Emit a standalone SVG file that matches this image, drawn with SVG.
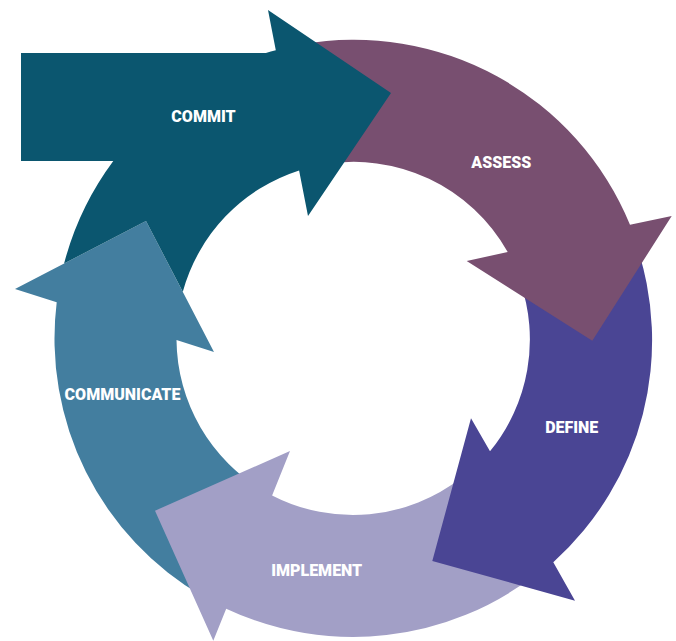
<svg xmlns="http://www.w3.org/2000/svg" width="676" height="641" viewBox="0 0 676 641">
  <style>
    .lbl { font-family: Roboto, "Liberation Sans", sans-serif; font-weight: 900; font-size: 16px; fill: #ffffff; text-anchor: middle; }
    .commit { fill: #0b566f; }
    .assess { fill: #784f70; }
    .define { fill: #4a4594; }
    .implement { fill: #a29fc6; }
    .communicate { fill: #437e9f; }
  </style>
  <rect width="676" height="641" fill="#ffffff"/>
  <g id="communicate">
    <path class="communicate" d="M 203.75,597 A 298.5 298.5 0 0 1 56.7,302.2 L 15,289 L 146,221 L 214,352 L 176.5,340.1 A 176.5 176.5 0 0 0 264.75,491.4 Z"/>
    <text class="lbl" x="122.5" y="400">COMMUNICATE</text>
  </g>
  <g id="implement">
    <path class="implement" d="M 536.8,573.7 A 298.5 298.5 0 0 1 226.2,608.7 L 213.3,640.7 L 155,510.7 L 290,451 L 272.1,495.4 A 176.5 176.5 0 0 0 461.7,477.6 Z"/>
    <text class="lbl" x="316.7" y="576">IMPLEMENT</text>
  </g>
  <g id="define">
    <path class="define" d="M 635.2,241.3 A 298.5 298.5 0 0 1 553.3,562.2 L 575,600.7 L 432.3,561 L 471,418.3 L 490,451.3 A 176.5 176.5 0 0 0 519.9,281 Z"/>
    <text class="lbl" x="571.7" y="433.3">DEFINE</text>
  </g>
  <g id="assess">
    <path class="assess" d="M 301.2,44.5 A 298.5 298.5 0 0 1 630,224.8 L 671.7,216 L 592.3,340.7 L 466.7,261 L 507.7,252 A 176.5 176.5 0 0 0 322.4,164.7 Z"/>
    <text class="lbl" x="501.3" y="168.3">ASSESS</text>
  </g>
  <g id="commit">
    <path class="commit" d="M 21,53 L 265.9,53 A 298.5 298.5 0 0 1 275.8,50.2 L 268,10 L 391,93 L 308,216 L 299.1,170.4 A 176.5 176.5 0 0 0 182.8,291.8 L 146,221 L 64.1,263.5 A 298.5 298.5 0 0 1 113.3,161 L 21,161 Z"/>
    <text class="lbl" x="203.5" y="122.3">COMMIT</text>
  </g>
</svg>
